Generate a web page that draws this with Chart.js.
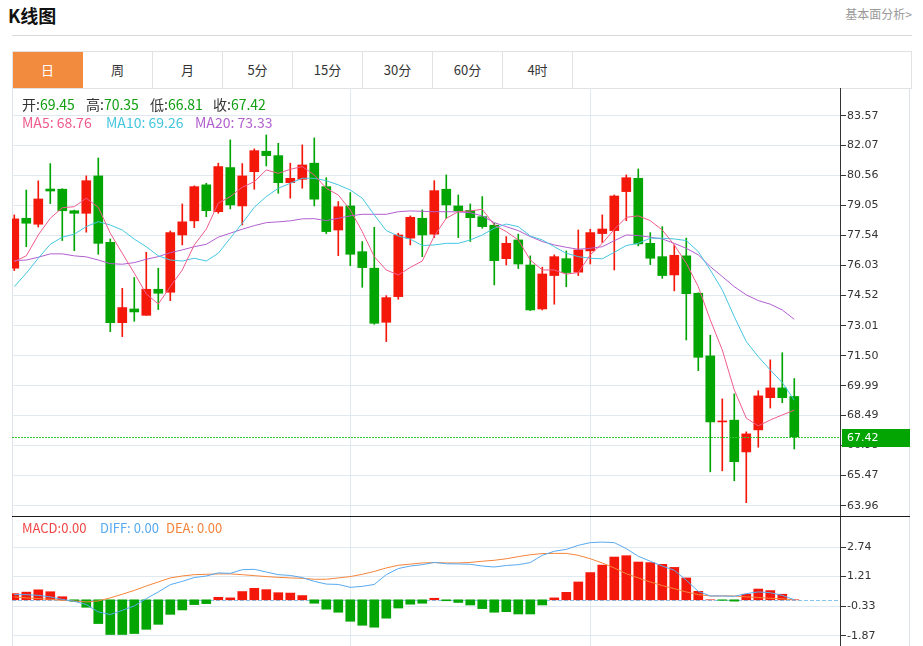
<!DOCTYPE html>
<html><head><meta charset="utf-8">
<script src="https://cdn.jsdelivr.net/npm/chart.js@4.4.0/dist/chart.umd.min.js"></script>
<style>
body{margin:0;width:923px;height:646px;background:#fff;position:relative;overflow:hidden;font-family:"Noto Sans CJK SC","Noto Sans",sans-serif;color:#333;}
.abs{position:absolute;white-space:nowrap;}
#tabs{position:absolute;left:12px;top:51px;width:898px;height:36px;border:1px solid #e2e2e2;box-sizing:content-box;}
.tab{position:absolute;top:0;height:36px;width:69px;border-right:1px solid #e2e2e2;text-align:center;line-height:36px;font-size:13px;color:#333;}
.tab.on{background:#f38b3f;color:#fff;border-right-color:#f38b3f;}
.lg{position:absolute;white-space:nowrap;font-size:14px;line-height:16px;}
.lg.sm{font-size:13px;}
canvas{position:absolute;left:0;}
</style></head><body>
<div class="abs" style="left:8px;top:4px;font-size:18px;font-weight:bold;color:#111;line-height:22px;">K线图</div>
<div class="abs" style="right:11px;top:6px;font-size:12px;color:#999;line-height:16px;">基本面分析&gt;</div>
<div class="abs" style="left:12px;top:35px;width:900px;height:1px;background:#d9d9d9;"></div>
<div id="tabs"></div>
<div class="abs" style="left:12px;top:88px;width:898px;height:558px;border-left:1px solid #dde3e8;border-right:1px solid #dde3e8;box-sizing:border-box;"></div>
<canvas id="ca" width="910" height="428" style="top:88px;"></canvas>
<canvas id="cb" width="910" height="130" style="top:516px;"></canvas>
<div class="abs" style="left:12px;top:516px;width:898px;height:1px;background:#1a1a1a;"></div>
<div id="leg"></div>
<script>
const TABS = ['日','周','月','5分','15分','30分','60分','4时'];
const OPEN  = [75.90,78.41,78.11,79.88,79.87,78.79,78.66,80.54,77.20,73.16,73.85,73.53,74.84,74.69,77.57,78.28,80.09,78.74,80.96,79.03,80.75,81.78,81.56,80.20,80.37,81.18,80.00,77.82,79.03,76.73,75.90,73.18,74.47,77.41,78.41,77.61,79.87,79.03,78.81,78.49,78.06,76.38,77.32,76.06,73.85,75.53,76.38,75.70,76.77,77.64,77.79,79.75,80.42,77.15,76.48,75.56,76.52,74.64,71.49,68.17,68.26,66.66,67.77,69.39,69.88,69.45];
const HIGH  = [78.58,79.83,80.29,81.16,79.90,78.82,80.54,81.44,77.37,74.89,75.43,76.70,75.90,77.77,79.13,80.04,80.17,81.18,82.35,81.16,81.90,82.60,82.18,81.18,82.10,82.45,80.45,79.25,79.70,77.24,77.96,74.52,77.66,78.53,78.83,80.30,80.59,79.58,79.13,79.50,78.16,77.49,77.61,76.52,75.95,76.57,76.77,77.82,77.86,78.58,79.58,80.59,80.89,77.69,77.99,77.07,77.41,74.66,72.53,69.33,69.58,67.67,69.74,71.29,71.65,70.35];
const LOW   = [75.78,76.98,77.97,79.15,77.29,76.78,77.71,76.60,72.71,72.46,73.23,73.53,73.82,74.27,77.07,77.94,78.49,78.66,78.88,78.07,79.87,81.04,79.67,79.42,79.92,79.03,77.64,76.53,76.03,74.94,73.08,72.21,74.34,77.07,76.48,77.44,78.41,77.44,77.24,77.91,75.06,76.06,75.88,73.77,73.80,74.09,74.97,75.53,76.11,77.19,75.81,78.29,77.02,76.08,75.39,74.76,72.29,70.75,65.66,65.71,65.21,64.11,66.90,68.87,69.14,66.81];
const CLOSE = [78.38,78.16,79.38,79.78,78.79,78.66,80.30,77.15,73.16,73.92,73.70,74.84,74.64,77.69,78.23,80.00,78.79,81.01,79.08,80.54,81.81,81.56,80.20,80.42,81.09,79.37,77.74,78.99,76.60,75.93,73.13,74.42,77.57,78.46,77.57,79.80,79.08,78.78,78.44,77.99,76.28,77.15,76.11,73.80,75.61,76.48,75.68,76.82,77.69,77.87,79.53,80.45,77.12,76.40,75.53,76.55,74.62,71.42,68.17,68.22,66.17,67.57,69.48,69.88,69.39,67.42];
const MA5  = [76.23,76.52,77.57,78.41,78.94,78.99,79.42,78.96,77.66,76.65,75.65,74.61,74.10,74.97,75.81,77.07,77.86,79.17,79.50,79.97,80.25,80.84,80.67,80.87,81.01,80.59,79.92,79.58,78.83,77.74,76.48,75.81,75.56,75.94,76.26,77.52,78.41,78.74,78.78,78.86,78.07,77.74,77.32,76.31,75.81,75.81,75.60,75.68,76.57,77.15,77.85,78.46,78.53,78.29,77.82,77.07,76.15,74.97,73.30,71.79,69.78,68.36,67.97,68.27,68.52,68.76];
const MA10 = [74.97,75.65,76.40,77.10,77.46,77.61,77.99,78.24,78.07,77.82,77.36,76.98,76.52,76.31,76.26,76.40,76.26,76.65,77.41,78.16,78.96,79.50,79.92,80.17,80.42,80.42,80.30,80.09,79.83,79.42,78.58,77.79,77.52,77.36,77.04,77.07,77.15,77.15,77.32,77.57,77.91,78.12,77.99,77.52,77.32,76.98,76.65,76.48,76.40,76.37,76.70,77.04,77.15,77.41,77.41,77.37,77.29,76.73,75.81,74.81,73.46,72.21,71.45,70.78,70.15,69.26];
const MA20 = [76.28,76.31,76.45,76.62,76.62,76.52,76.47,76.31,76.13,76.10,76.18,76.35,76.48,76.68,76.82,76.98,77.10,77.46,77.66,77.86,78.04,78.19,78.23,78.28,78.38,78.39,78.29,78.41,78.53,78.61,78.61,78.61,78.74,78.78,78.76,78.74,78.74,78.73,78.69,78.53,78.19,77.99,77.79,77.49,77.24,77.07,76.95,76.85,76.90,76.98,77.28,77.57,77.54,77.46,77.37,77.15,76.90,76.57,75.98,75.48,74.97,74.56,74.27,74.09,73.80,73.33];
const MACD = [0.32,0.40,0.52,0.42,0.16,-0.08,-0.39,-1.24,-1.81,-1.81,-1.76,-1.54,-1.28,-0.76,-0.53,-0.25,-0.20,0.13,0.10,0.43,0.60,0.53,0.37,0.35,0.22,-0.18,-0.49,-0.65,-1.12,-1.33,-1.43,-0.96,-0.43,-0.23,-0.18,0.08,-0.05,-0.14,-0.27,-0.46,-0.65,-0.62,-0.74,-0.74,-0.27,0.10,0.39,0.93,1.42,1.81,2.23,2.30,1.97,1.94,1.85,1.69,1.14,0.44,0.00,-0.03,-0.07,0.29,0.56,0.48,0.29,0.00];
const DIFF = [0.27,0.27,0.23,0.15,0.02,-0.08,-0.25,-0.63,-0.77,-0.55,-0.32,0.06,0.41,0.79,0.96,1.16,1.24,1.40,1.38,1.57,1.59,1.45,1.31,1.27,1.16,0.96,0.82,0.80,0.65,0.70,0.80,1.31,1.63,1.76,1.83,1.95,1.88,1.87,1.85,1.76,1.71,1.79,1.83,1.94,2.32,2.53,2.63,2.84,2.98,3.01,2.98,2.67,2.27,2.01,1.76,1.54,1.02,0.44,0.20,0.20,0.18,0.32,0.41,0.37,0.23,0.00];
const DEA  = [0.15,0.10,0.06,0.03,-0.03,-0.06,-0.11,-0.06,0.10,0.29,0.49,0.72,0.93,1.14,1.24,1.31,1.33,1.35,1.35,1.31,1.26,1.21,1.17,1.14,1.12,1.07,1.07,1.14,1.21,1.33,1.48,1.66,1.80,1.86,1.92,1.94,1.92,1.92,1.95,2.01,2.06,2.14,2.25,2.35,2.41,2.42,2.42,2.32,2.14,1.92,1.66,1.36,1.14,0.93,0.74,0.58,0.41,0.27,0.20,0.20,0.20,0.15,0.12,0.08,0.05,0.00];
const PRICE_TICKS = [83.57,82.07,80.56,79.05,77.54,76.03,74.52,73.01,71.50,69.99,68.49,66.98,65.47,63.96];
const MACD_TICKS = [2.74,1.21,-0.33,-1.87];
const VGRID = [28,48];

const RED='#f4180b', GREEN='#03a503', GRID='#e1e9f0';
const C_MA5='#ef5b8c', C_MA10='#45c6df', C_MA20='#b25fcf', C_DIFF='#58a9ef', C_DEA='#f5843a', C_MACD='#ef4545';
const TICKFONT={family:'Verdana, "DejaVu Sans", sans-serif', size:11};

// tabs
const tabs=document.getElementById('tabs');
TABS.forEach((t,i)=>{const d=document.createElement('div');d.className='tab'+(i===0?' on':'');d.style.left=(i*70)+'px';d.textContent=t;tabs.appendChild(d);});

// legends
const L=CLOSE.length-1;
const leg=document.getElementById('leg');
function addLeg(x,yc,html,cls){const d=document.createElement('div');d.className='lg'+(cls?' '+cls:'');d.style.left=x+'px';d.style.top=(yc-8)+'px';d.innerHTML=html;leg.appendChild(d);}
const gv=v=>'<span style="color:#12a012">'+v.toFixed(2)+'</span>';
addLeg(22,104,'开:'+gv(OPEN[L]));
addLeg(86,104,'高:'+gv(HIGH[L]));
addLeg(150,104,'低:'+gv(LOW[L]));
addLeg(213,104,'收:'+gv(CLOSE[L]));
addLeg(22,122,'<span style="color:'+C_MA5+'">MA5: '+MA5[L].toFixed(2)+'</span>');
addLeg(106,122,'<span style="color:'+C_MA10+'">MA10: '+MA10[L].toFixed(2)+'</span>');
addLeg(195,122,'<span style="color:'+C_MA20+'">MA20: '+MA20[L].toFixed(2)+'</span>');
addLeg(22,528,'<span style="color:'+C_MACD+'">MACD:0.00</span>','sm');
addLeg(100,528,'<span style="color:'+C_DIFF+'">DIFF: 0.00</span>','sm');
addLeg(166,528,'<span style="color:'+C_DEA+'">DEA: 0.00</span>','sm');

const idx=CLOSE.map((_,i)=>i);
const candleColors=idx.map(i=>CLOSE[i]>=OPEN[i]?RED:GREEN);
const XMIN=-0.19, XMAX=68.81;

function xScale(){return {type:'linear',min:XMIN,max:XMAX,offset:false,
  afterBuildTicks:s=>{s.ticks=VGRID.map(v=>({value:v}));},
  afterFit:s=>{s.height=0;s.paddingLeft=0;s.paddingRight=0;},
  ticks:{display:false},grid:{color:GRID,drawTicks:false,offset:false},border:{display:false}};}
function yScale(min,max,ticks){return {position:'right',min:min,max:max,
  afterBuildTicks:s=>{s.ticks=ticks.map(v=>({value:v}));},
  afterFit:s=>{s.width=70;s.paddingTop=0;s.paddingBottom=0;},
  ticks:{color:'#333',font:TICKFONT,padding:1,callback:v=>Number(v).toFixed(2)},
  grid:{color:GRID,tickColor:'#333',tickLength:6,offset:false},border:{color:'#333'}};}
const line=(arr,c)=>({type:'line',data:idx.map(i=>({x:i,y:arr[i]})),borderColor:c,borderWidth:1,pointRadius:0,fill:false,tension:0,order:0});

const lastPricePlugin={id:'lastPrice',
  afterDatasetsDraw(chart){const a=chart.chartArea,y=Math.round(chart.scales.y.getPixelForValue(CLOSE[L])),c=chart.ctx;
    c.save();c.fillStyle='#2ec82e';
    for(let x=Math.ceil(a.left);x<a.right;x+=3){c.fillRect(x,y,2,1);}
    c.restore();},
  afterDraw(chart){const a=chart.chartArea,y=Math.round(chart.scales.y.getPixelForValue(CLOSE[L])),c=chart.ctx;
    c.save();c.fillStyle=GREEN;c.fillRect(a.right+2,y-8,68,18);
    c.fillStyle='#fff';c.font='11px Verdana, "DejaVu Sans", sans-serif';c.textBaseline='middle';c.fillText(CLOSE[L].toFixed(2),a.right+7,y+1);c.restore();}};

new Chart(document.getElementById('ca'),{
  type:'bar',
  data:{datasets:[
    line(MA5,C_MA5),line(MA10,C_MA10),line(MA20,C_MA20),
    {type:'bar',data:idx.map(i=>({x:i,y:[OPEN[i],CLOSE[i]]})),backgroundColor:candleColors,barThickness:9,minBarLength:1,grouped:false,order:2},
    {type:'bar',data:idx.map(i=>({x:i,y:[LOW[i],HIGH[i]]})),backgroundColor:candleColors,barThickness:1,grouped:false,order:3}
  ]},
  options:{responsive:false,animation:false,devicePixelRatio:1,
    layout:{padding:{left:12,right:0,top:0,bottom:0}},
    plugins:{legend:{display:false},tooltip:{enabled:false}},
    scales:{x:xScale(),y:yScale(63.44,84.96,PRICE_TICKS)}},
  plugins:[lastPricePlugin]
});

const zeroPlugin={id:'zero',beforeDatasetsDraw(chart){const a=chart.chartArea,y=Math.round(chart.scales.y.getPixelForValue(0)),c=chart.ctx;
  c.save();c.fillStyle='#86c6ef';for(let x=Math.ceil(a.left);x<a.right;x+=6){c.fillRect(x,y,4,1);}c.restore();}};

new Chart(document.getElementById('cb'),{
  type:'bar',
  data:{datasets:[
    line(DIFF,C_DIFF),line(DEA,C_DEA),
    {type:'bar',data:idx.map(i=>({x:i,y:MACD[i]})),backgroundColor:idx.map(i=>MACD[i]>=0?RED:GREEN),barThickness:9,grouped:false,order:2}
  ]},
  options:{responsive:false,animation:false,devicePixelRatio:1,
    layout:{padding:{left:12,right:0,top:0,bottom:0}},
    plugins:{legend:{display:false},tooltip:{enabled:false}},
    scales:{x:xScale(),y:yScale(-2.41,4.37,MACD_TICKS)}},
  plugins:[zeroPlugin]
});
</script>
</body></html>
